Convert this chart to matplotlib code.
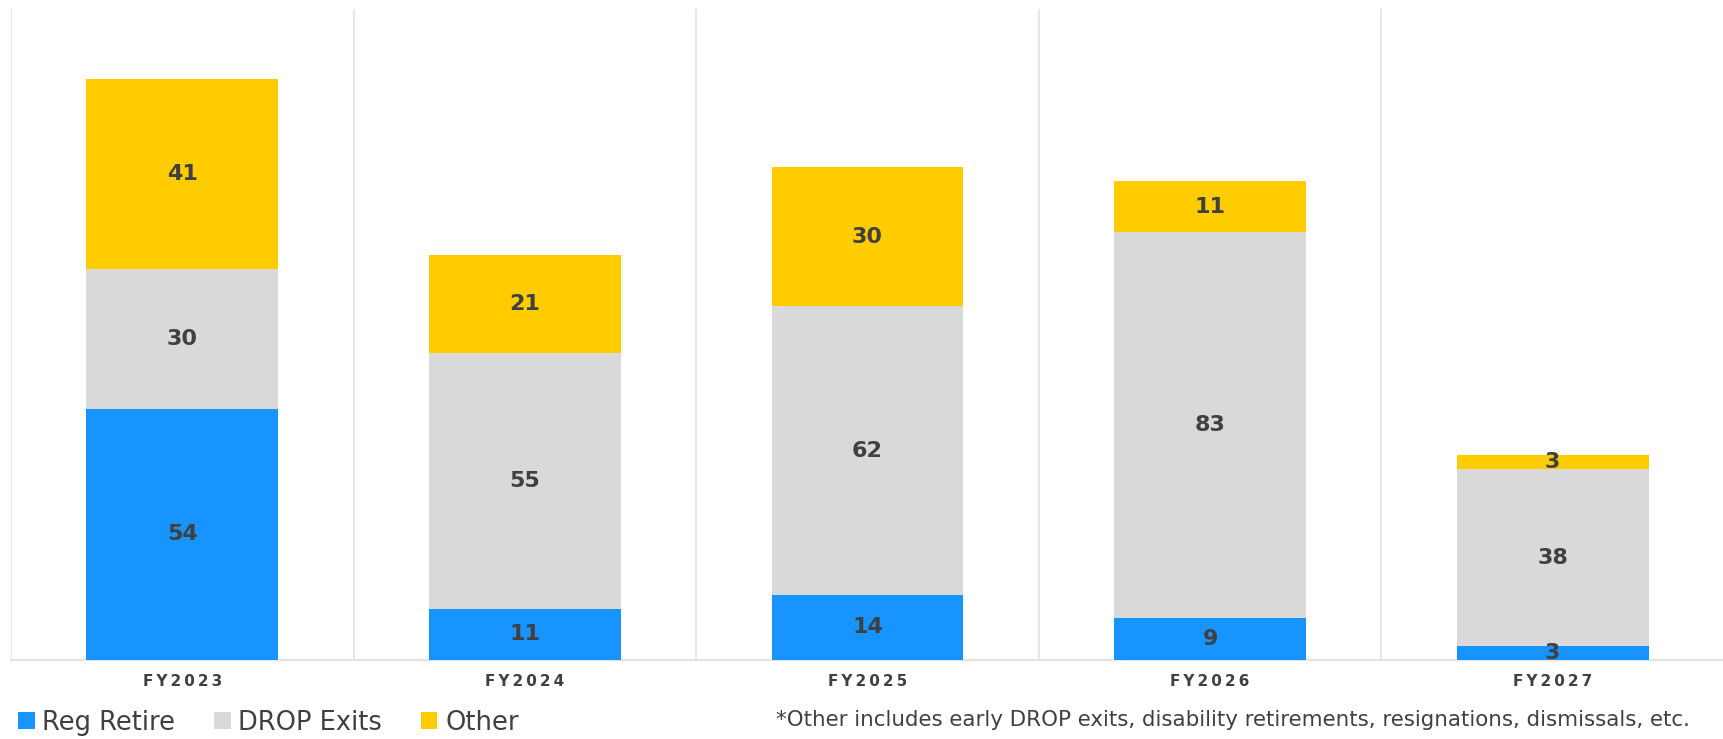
from matplotlib import pyplot as plt
import numpy as np

years = ["FY2023", "FY2024", "FY2025", "FY2026", "FY2027"]
reg_retire = [54, 11, 14, 9, 3]
drop_exits = [30, 55, 62, 83, 38]
other = [41, 21, 30, 11, 3]

c_blue = "#1794FF"
c_gray = "#D9D9D9"
c_yellow = "#FFCC00"
c_text = "#404040"

fig = plt.figure(figsize=(17.24, 7.39), dpi=100)
ax = fig.add_axes([0.0064, 0.107, 0.9936, 0.881])

x = np.arange(len(years))
w = 0.56
series = [("Reg Retire", reg_retire, c_blue),
          ("DROP Exits", drop_exits, c_gray),
          ("Other", other, c_yellow)]
bottom = np.zeros(len(years))
for name, vals, col in series:
    vals = np.array(vals)
    ax.bar(x, vals, w, bottom=bottom, color=col, label=name,
           linewidth=0, zorder=3)
    for xi, b, v in zip(x, bottom, vals):
        ax.text(xi, b + v / 2, str(v), ha="center", va="center",
                fontsize=16, fontweight="bold", color=c_text, zorder=4)
    bottom = bottom + vals

ax.set_xlim(-0.5, 4.5)
ax.set_ylim(0, 140)
ax.set_yticks([])
ax.set_xticks(x)
ax.set_xticklabels(["\u2009".join(y) for y in years], fontsize=11,
                   fontweight="bold", color=c_text)
ax.tick_params(axis="x", length=0, pad=10)
ax.set_xticks(np.arange(-0.5, 5, 1), minor=True)
ax.tick_params(axis="x", which="minor", length=0)
ax.grid(axis="x", which="minor", color="#E3E3E3", linewidth=1.2, zorder=0)
for s in ["top", "right", "left"]:
    ax.spines[s].set_visible(False)
ax.spines["bottom"].set_color("#E3E3E3")
ax.spines["bottom"].set_linewidth(1.5)

fig.legend(loc="center left", bbox_to_anchor=(-0.003, 0.022), ncol=3,
           frameon=False, fontsize=18.5, handlelength=0.65, handleheight=0.65,
           handletextpad=0.3, columnspacing=1.5, labelcolor=c_text)
fig.text(0.980, 0.026,
         "*Other includes early DROP exits, disability retirements, resignations, dismissals, etc.",
         ha="right", va="center", fontsize=15.4, color=c_text)

fig.savefig("out.png", dpi=100)
